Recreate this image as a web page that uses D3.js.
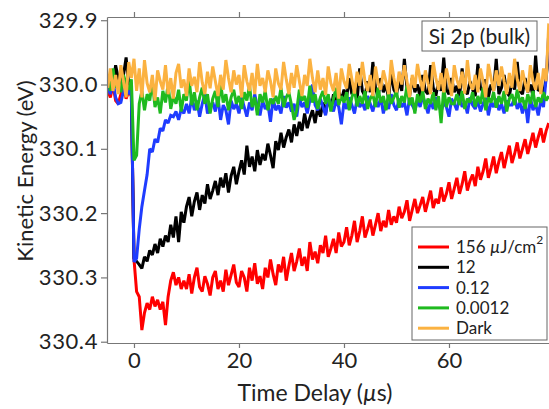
<!DOCTYPE html>
<html><head><meta charset="utf-8">
<script src="https://cdn.jsdelivr.net/npm/d3@7/dist/d3.min.js"></script>
<style>
body{margin:0;background:#fff;}
svg text{font-family:Lato,"Open Sans",sans-serif;fill:#222;}
</style></head>
<body><svg id="c" width="549" height="409"></svg>
<script>
// sampling grid: time delay in microseconds
const timeStart = -5, timeStep = 0.5;

const yTicks = [329.9, 330.0, 330.1, 330.2, 330.3, 330.4];
const xTicks = [0, 20, 40, 60];

const seriesNames = ["156 ", "12", "0.12", "0.0012", "Dark"];
const seriesColors = ["#ff0000", "#000000", "#1f3cff", "#1fba1f", "#fbb241"];

const red156 = [
330.010,330.020,330.000,330.025,330.030,330.015,330.005,330.022,330.010,330.018,
330.272,330.322,330.330,330.382,330.355,330.340,330.350,330.330,330.345,330.335,
330.350,330.338,330.374,330.330,330.305,330.292,330.312,330.300,330.318,330.305,
330.318,330.295,330.325,330.300,330.285,330.315,330.322,330.298,330.310,330.328,
330.300,330.290,330.318,330.305,330.322,330.288,330.312,330.296,330.280,330.308,
330.315,330.290,330.300,330.322,330.285,330.305,330.278,330.310,330.298,330.318,
330.285,330.300,330.272,330.295,330.312,330.280,330.292,330.268,330.305,330.282,
330.262,330.290,330.275,330.255,330.282,330.268,330.290,330.245,330.272,330.260,
330.278,330.250,330.262,330.235,330.268,330.255,330.240,330.262,330.230,330.252,
330.245,330.222,330.250,330.235,330.212,330.245,330.228,330.205,330.238,330.225,
330.210,330.235,330.218,330.200,330.228,330.212,330.222,330.195,330.218,330.205,
330.215,330.190,330.208,330.198,330.180,330.212,330.195,330.178,330.200,330.188,
330.175,330.198,330.182,330.165,330.192,330.178,330.185,330.160,330.182,330.170,
330.152,330.178,330.162,330.145,330.170,330.155,330.135,330.165,330.150,330.140,
330.158,330.128,330.148,330.135,330.115,330.145,330.130,330.112,330.138,330.120,
330.105,330.130,330.112,330.095,330.122,330.108,330.090,330.115,330.100,330.085,
330.108,330.092,330.075,330.098,330.082,330.068,330.090,330.072,330.060];

const black12 = [
330.000,329.985,330.005,329.970,329.990,330.000,329.985,329.958,330.000,330.015,
330.270,330.275,330.280,330.286,330.268,330.275,330.258,330.265,330.248,330.262,
330.240,330.252,330.235,330.245,330.218,330.238,330.205,330.245,330.198,330.215,
330.190,330.175,330.205,330.182,330.168,330.195,330.172,330.185,330.155,330.178,
330.165,330.150,330.172,330.145,330.160,330.138,330.168,330.142,330.128,330.155,
330.135,330.118,330.140,330.095,330.128,330.112,330.135,330.102,330.125,330.108,
330.118,330.092,330.110,330.130,330.088,330.102,330.075,330.098,330.082,330.070,
330.090,330.062,330.080,330.058,330.072,330.045,330.068,330.052,330.040,330.060,
330.035,330.050,330.028,330.045,330.020,330.038,330.015,330.032,330.010,330.025,
330.008,330.020,329.990,330.015,330.000,330.025,329.975,330.010,330.018,329.995,
330.012,329.965,330.005,330.020,329.990,330.012,330.000,330.022,329.980,330.008,
330.015,329.995,330.010,329.960,330.005,330.018,329.990,330.012,330.000,330.020,
329.985,330.010,330.015,329.970,330.005,330.018,329.995,330.010,329.958,330.008,
330.015,329.990,330.012,330.002,330.020,329.975,330.010,330.015,329.995,330.008,
330.018,329.968,330.005,330.012,329.992,330.020,330.000,330.010,329.960,330.015,
330.005,329.985,330.012,330.018,329.995,330.008,329.965,330.010,330.015,329.990,
330.012,330.000,330.018,329.955,330.010,330.005,330.015,329.990,329.950];

const blue012 = [
330.005,330.015,329.995,330.020,330.030,330.028,330.010,330.000,330.015,330.008,
330.276,330.270,330.225,330.190,330.165,330.140,330.100,330.105,330.085,330.090,
330.068,330.072,330.055,330.060,330.048,330.050,330.042,330.055,330.038,330.045,
330.030,330.045,330.020,330.040,330.025,330.050,330.030,330.015,330.045,330.035,
330.028,330.042,330.020,330.055,330.032,330.040,330.062,330.025,330.038,330.030,
330.045,330.020,330.035,330.050,330.028,330.040,330.015,330.035,330.048,330.025,
330.038,330.030,330.058,330.022,330.040,330.032,330.045,330.018,330.036,330.028,
330.042,330.030,330.050,330.020,330.035,330.028,330.045,330.025,330.000,330.032,
330.040,330.022,330.035,330.048,330.020,330.030,330.042,330.025,330.035,330.062,
330.028,330.038,330.020,330.032,330.045,330.022,330.035,330.028,330.040,330.018,
330.030,330.042,330.025,330.035,330.020,330.045,330.028,330.038,330.015,330.032,
330.040,330.022,330.035,330.028,330.048,330.020,330.032,330.040,330.025,330.035,
330.018,330.030,330.045,330.025,330.038,330.020,330.032,330.042,330.028,330.035,
330.050,330.022,330.030,330.040,330.018,330.035,330.028,330.045,330.020,330.032,
330.038,330.025,330.042,330.030,330.020,330.048,330.028,330.035,330.022,330.040,
330.030,330.045,330.025,330.032,330.032,330.020,330.038,330.028,330.045,330.025,
330.060,330.020,330.040,330.030,330.048,330.025,330.035,329.990,329.920];

const green00012 = [
329.990,330.010,329.975,330.005,329.995,330.012,329.985,330.000,330.008,329.992,
330.118,330.110,330.030,330.010,330.040,330.015,330.025,329.995,330.035,330.020,
330.045,330.010,330.028,330.000,330.038,330.018,330.030,330.008,330.042,330.015,
330.025,329.990,330.032,330.012,330.040,330.020,330.005,330.030,330.015,330.045,
330.022,330.010,330.035,329.998,330.028,330.015,330.040,330.020,330.008,330.030,
330.018,330.038,330.012,330.025,330.002,330.035,330.020,330.048,330.015,330.028,
330.010,330.040,330.022,330.030,330.018,330.030,330.005,330.035,330.020,330.012,
330.032,330.055,330.040,330.008,330.025,330.018,330.036,330.002,330.028,330.015,
330.038,330.020,330.010,330.030,330.015,330.042,330.022,330.005,330.032,330.018,
330.028,330.012,330.040,330.020,330.008,330.034,330.018,330.030,330.010,330.038,
330.022,330.015,330.035,330.005,330.028,330.018,330.040,330.012,330.030,330.020,
330.010,330.036,330.018,330.028,330.002,330.032,330.020,330.045,330.015,330.028,
330.010,330.038,330.022,330.030,330.012,330.040,330.018,330.060,330.005,330.035,
330.020,330.030,330.030,330.015,330.032,330.010,330.038,330.022,330.028,330.012,
330.035,330.018,330.030,330.005,330.040,330.020,330.028,330.012,330.036,330.018,
330.030,330.010,330.042,330.022,330.015,330.032,330.008,330.028,330.020,330.038,
330.015,330.030,330.010,330.035,330.020,330.028,330.012,330.025,330.018];

const dark = [
330.005,329.975,330.010,329.985,330.015,329.970,329.995,330.020,329.965,329.990,
329.960,330.010,329.975,330.020,329.962,329.998,330.012,329.985,330.025,329.978,
329.995,330.008,329.970,330.015,329.990,330.022,329.982,329.968,330.005,329.992,
330.018,329.975,330.002,329.988,330.012,329.965,329.997,330.015,329.980,330.006,
329.972,329.995,330.018,329.985,330.008,329.962,329.990,330.012,329.978,330.000,
329.985,330.020,329.970,329.995,330.010,329.982,330.015,329.968,330.002,329.990,
330.012,329.978,329.995,330.020,329.975,329.998,330.008,329.965,329.992,330.015,
329.982,330.005,329.970,329.995,330.018,329.985,330.002,329.960,329.990,330.012,
329.978,330.008,329.990,330.016,329.972,329.998,330.010,329.982,330.022,329.975,
329.995,330.006,329.968,329.992,330.014,329.980,330.002,329.965,329.995,330.010,
329.985,330.018,329.972,329.998,330.008,329.978,329.995,330.015,329.962,329.990,
330.012,329.980,330.000,329.970,329.995,330.020,329.985,330.005,329.968,329.992,
330.010,329.978,329.998,330.015,329.965,329.990,330.008,329.982,330.012,329.975,
329.995,330.018,329.970,329.992,330.006,329.980,330.014,329.962,329.998,330.008,
329.985,330.012,329.975,329.995,330.020,329.968,329.990,330.010,329.978,330.002,
329.972,329.995,330.015,329.982,330.005,329.960,329.992,330.010,329.978,329.998,
330.012,329.970,329.995,330.008,329.982,330.015,329.975,329.995,329.905];

const seriesValues = [red156, black12, blue012, green00012, dark];

const svg = d3.select("#c");
const L = 107, R = 549, T = 17, B = 343;
const x = d3.scaleLinear().domain([-5.14, 79.05]).range([L, R]);
const y = d3.scaleLinear().domain([329.895, 330.402]).range([T, B]);

svg.append("defs").append("clipPath").attr("id","clip")
  .append("rect").attr("x",L).attr("y",T).attr("width",R-L).attr("height",B-T);

const line = d3.line().x(d => x(d[0])).y(d => y(d[1]));
const g = svg.append("g").attr("clip-path","url(#clip)");
seriesValues.forEach((vals, k) => {
  const pts = vals.map((v, i) => [timeStart + i*timeStep, v]);
  g.append("path").datum(pts).attr("d", line)
    .attr("fill","none").attr("stroke", seriesColors[k])
    .attr("stroke-width", 3).attr("stroke-linejoin","miter").attr("stroke-miterlimit",2);
});

const axColor = "#777";
function styleAxis(sel){
  sel.selectAll("path,line").attr("stroke", axColor).attr("stroke-width", 1.2);
}
const yAxis = svg.append("g").attr("transform",`translate(${L},0)`)
  .call(d3.axisLeft(y).tickValues(yTicks).tickFormat(d3.format(".1f")).tickSize(6).tickSizeOuter(0).tickPadding(3));
styleAxis(yAxis);
yAxis.selectAll("text").style("font-size","22px").attr("letter-spacing","0.6px").attr("fill","#222");

const xAxis = svg.append("g").attr("transform",`translate(0,${B})`)
  .call(d3.axisBottom(x).tickValues(xTicks).tickSize(5).tickSizeOuter(0).tickPadding(4));
styleAxis(xAxis);
xAxis.selectAll("text").style("font-size","22px").attr("fill","#222");

const topAxis = svg.append("g").attr("transform",`translate(0,${T})`)
  .call(d3.axisTop(x).tickValues(xTicks).tickSize(5).tickSizeOuter(0).tickFormat(""));
styleAxis(topAxis);

const xt = svg.append("text").attr("x", 315).attr("y", 401).attr("text-anchor","middle")
  .style("font-size","23px");
xt.append("tspan").text("Time Delay (");
xt.append("tspan").style("font-style","italic").text("\u00b5");
xt.append("tspan").text("s)");
svg.append("text").attr("transform","translate(33,171) rotate(-90)").attr("text-anchor","middle")
  .style("font-size","22px").text("Kinetic Energy (eV)");

// label box
svg.append("rect").attr("x",422).attr("y",21).attr("width",115).attr("height",30)
  .attr("fill","#fff").attr("stroke","#666").attr("stroke-width",1);
svg.append("text").attr("x",479.5).attr("y",44).attr("text-anchor","middle")
  .style("font-size","21px").text("Si 2p (bulk)");

// legend
const lg = svg.append("g");
lg.append("rect").attr("x",412).attr("y",227).attr("width",135).attr("height",113)
  .attr("fill","#fff").attr("stroke","#666").attr("stroke-width",1);
seriesNames.forEach((n, k) => {
  const cy = 247 + k*20.3;
  lg.append("line").attr("x1",418).attr("x2",449).attr("y1",cy).attr("y2",cy)
    .attr("stroke", seriesColors[k]).attr("stroke-width",3);
  const t = lg.append("text").attr("x",456).attr("y",cy+6).style("font-size","17px").text(n);
  if (k === 0) {
    t.append("tspan").style("font-style","italic").text("\u00b5");
    t.append("tspan").text("J/cm");
    t.append("tspan").attr("dy",-9).style("font-size","12px").text("2");
  }
});
</script></body></html>
